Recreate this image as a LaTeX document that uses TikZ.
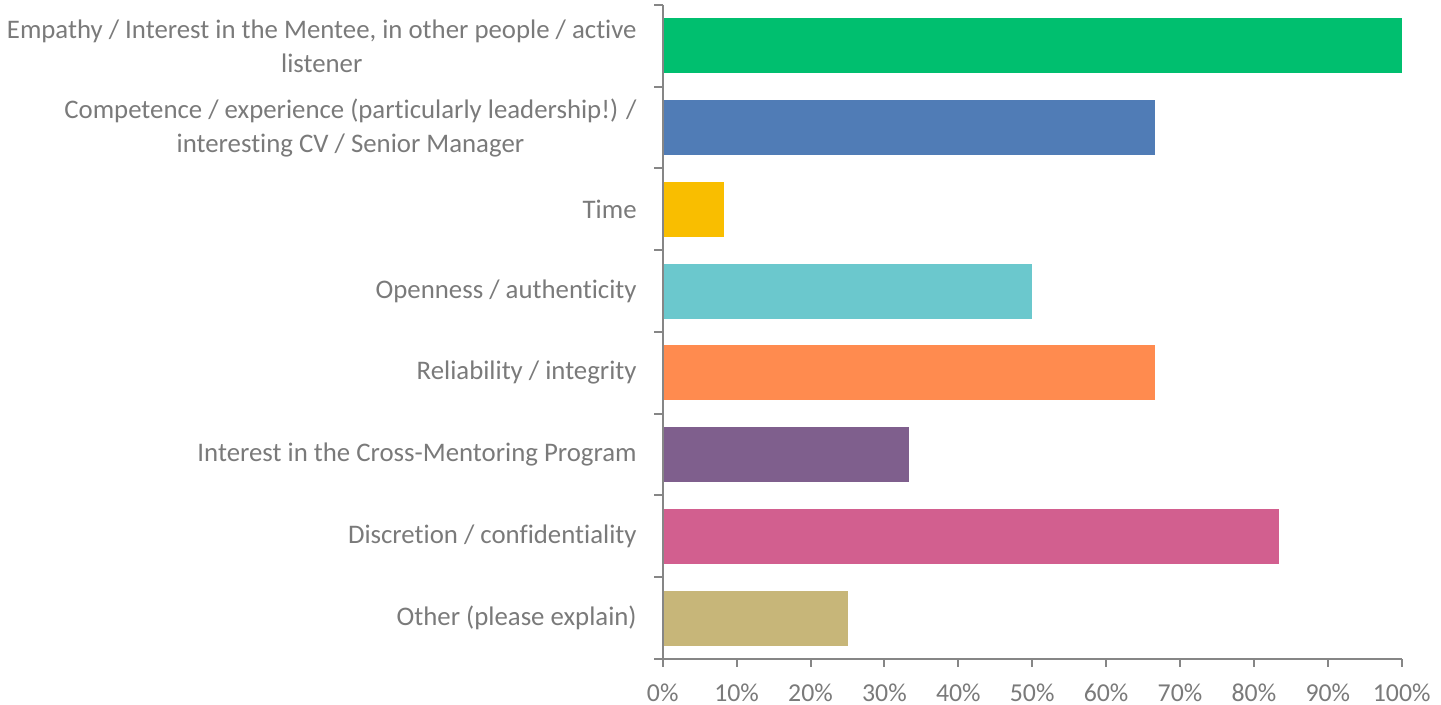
\documentclass[tikz,border=0pt]{standalone}
\usepackage{fontspec}
\setmainfont{Carlito}[Ligatures=NoCommon]
\usepackage{tikz}

\definecolor{axisgray}{HTML}{868686}
\definecolor{txtgray}{HTML}{7A7A7A}
\definecolor{cgreen}{HTML}{00BF6F}
\definecolor{cblue}{HTML}{507CB6}
\definecolor{cyellow}{HTML}{F9BE00}
\definecolor{cteal}{HTML}{6BC8CD}
\definecolor{corange}{HTML}{FF8B4F}
\definecolor{cpurple}{HTML}{7F5F8D}
\definecolor{cpink}{HTML}{D25F8F}
\definecolor{ctan}{HTML}{C7B679}

\begin{document}
\begin{tikzpicture}
		[x=0.5pt,y=-0.5pt,
		lbl/.style= {font=\fontsize{13.4}{17}\selectfont,text=txtgray,anchor=east,align=center,inner sep=0pt},
		tck/.style= {font=\fontsize{12.9}{14}\selectfont,text=txtgray,inner sep=0pt},
		ax/.style= {draw=axisgray,line width=1pt}]

		\useasboundingbox (0,0) rectangle (1441,705);

		% bars
		\fill[cgreen]	(662.7,18.4)	rectangle (1401.7,73.4);
		\fill[cblue]	(662.7,100.1)	rectangle (1155.4,155.1);
		\fill[cyellow]	(662.7,181.9)	rectangle (724.3,236.9);
		\fill[cteal]	(662.7,263.6)	rectangle (1032.2,318.6);
		\fill[corange]	(662.7,345.4)	rectangle (1155.4,400.4);
		\fill[cpurple]	(662.7,427.1)	rectangle (909.0,482.1);
		\fill[cpink]	(662.7,508.9)	rectangle (1278.5,563.9);
		\fill[ctan]	(662.7,590.6)	rectangle (847.5,645.6);

		% axes
		\draw[ax] (662.7,5) -- (662.7,659) -- (1401.7,659);
		\foreach \y in {5,86.75,168.5,250.25,332,413.75,495.5,577.25,659}
			\draw[ax] (654,\y) -- (662.7,\y);
		\foreach \p in {0,10,...,100}
			\draw[ax] ({662.7+7.39*\p},659) -- ({662.7+7.39*\p},667)
				node[tck,anchor=center] (t\p) at ({662.7+7.39*\p},692.5) {\p\%};

		% categories
		\node[lbl] (c1) at (637,46) {Empathy / Interest in the Mentee, in other people / active\\listener};
		\node[lbl] (c2) at (637,128) {Competence / experience (particularly leadership!) /\\interesting CV / Senior Manager};
		\node[lbl] (c3) at (637,209.4) {Time};
		\node[lbl] (c4) at (637,291.1) {Openness / authenticity};
		\node[lbl] (c5) at (637,372.9) {Reliability / integrity};
		\node[lbl] (c6) at (637,454.6) {Interest in the Cross-Mentoring Program};
		\node[lbl] (c7) at (637,536.4) {Discretion / confidentiality};
		\node[lbl] (c8) at (637,618.1) {Other (please explain)};

	\end{tikzpicture}
\end{document}
